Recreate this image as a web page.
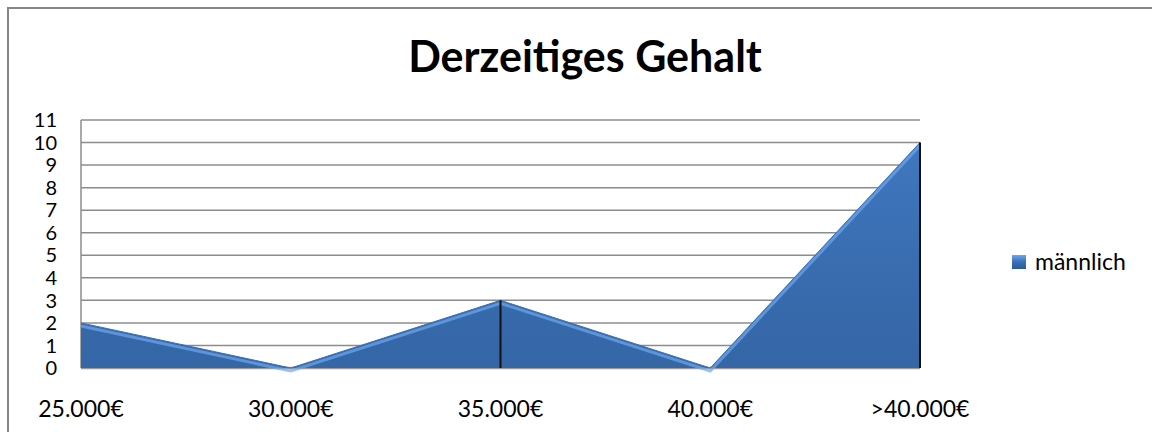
<!DOCTYPE html>
<html>
<head>
<meta charset="utf-8">
<script src="https://cdn.jsdelivr.net/npm/d3@7"></script>
<style>
  html, body { margin: 0; background: #fff; overflow: hidden; }
  svg { display: block; }
  text { font-family: Lato, "Open Sans", sans-serif; }
</style>
</head>
<body>
<div id="chart"></div>
<script>
//data
const categories = ["25.000€", "30.000€", "35.000€", "40.000€", ">40.000€"];
const values = [2, 0, 3, 0, 10];
const yTicks = [0, 1, 2, 3, 4, 5, 6, 7, 8, 9, 10, 11];
const seriesName = "männlich";
const title = "Derzeitiges Gehalt";

//constants
const width = 1152;
const height = 432;
const margin = { top: 120, bottom: 64, left: 81, right: 232 };

const svg = d3
  .select("#chart")
  .append("svg")
  .attr("width", width)
  .attr("height", height);

// outer chart frame: only left and top edges show in the picture
svg
  .append("path")
  .attr("d", `M8,${height} V8 H${width}`)
  .attr("fill", "none")
  .attr("stroke", "#868686")
  .attr("stroke-width", 2);

const x = d3
  .scalePoint()
  .domain(categories)
  .range([margin.left, width - margin.right]);

const y = d3
  .scaleLinear()
  .domain([0, 11])
  .range([height - margin.bottom, margin.top]);

//gradients
const defs = svg.append("defs");
const grad = defs
  .append("linearGradient")
  .attr("id", "areaFill")
  .attr("x1", 0)
  .attr("y1", 0)
  .attr("x2", 0)
  .attr("y2", 1);
grad.append("stop").attr("offset", "0%").attr("stop-color", "#3f77bf");
grad.append("stop").attr("offset", "60%").attr("stop-color", "#386cae");
grad.append("stop").attr("offset", "100%").attr("stop-color", "#3566a6");

const legGrad = defs
  .append("linearGradient")
  .attr("id", "legFill")
  .attr("x1", 0)
  .attr("y1", 0)
  .attr("x2", 0)
  .attr("y2", 1);
legGrad.append("stop").attr("offset", "0%").attr("stop-color", "#6aa6ee");
legGrad.append("stop").attr("offset", "50%").attr("stop-color", "#3a70b4");
legGrad.append("stop").attr("offset", "100%").attr("stop-color", "#2d5b98");

//gridlines
svg
  .append("g")
  .selectAll("line")
  .data(yTicks)
  .join("line")
  .attr("x1", margin.left)
  .attr("x2", width - margin.right)
  .attr("y1", (d) => y(d))
  .attr("y2", (d) => y(d))
  .attr("stroke", (d) => (d === 0 ? "#9a9a9a" : "#8c8c8c"))
  .attr("stroke-width", (d) => (d === 0 ? 2.5 : 1.5));

// left border of plot area
svg
  .append("line")
  .attr("x1", margin.left)
  .attr("x2", margin.left)
  .attr("y1", y(11))
  .attr("y2", y(0))
  .attr("stroke", "#8c8c8c")
  .attr("stroke-width", 1.5);

//area
const area = d3
  .area()
  .x((d, i) => x(categories[i]))
  .y0(y(0))
  .y1((d) => y(d));

svg
  .append("path")
  .datum(values)
  .attr("d", area)
  .attr("fill", "url(#areaFill)");

// light bevel just inside the top edge
const line = d3
  .line()
  .x((d, i) => x(categories[i]))
  .y((d) => y(d));

svg
  .append("path")
  .datum(values)
  .attr("d", line)
  .attr("fill", "none")
  .attr("stroke", "#6ea8f0")
  .attr("stroke-width", 3)
  .attr("transform", "translate(0,3)")
  .attr("opacity", 0.7);

svg
  .append("path")
  .datum(values)
  .attr("d", line)
  .attr("fill", "none")
  .attr("stroke", "#3d72b8")
  .attr("stroke-width", 1);

// dark vertical edges at 35.000€ and >40.000€
svg
  .append("g")
  .selectAll("line")
  .data([categories[2], categories[4]])
  .join("line")
  .attr("x1", (d) => x(d))
  .attr("x2", (d) => x(d))
  .attr("y1", (d) => y(values[categories.indexOf(d)]))
  .attr("y2", y(0))
  .attr("stroke", "#111")
  .attr("stroke-width", 2);

//y axis labels
svg
  .append("g")
  .selectAll("text")
  .data(yTicks)
  .join("text")
  .attr("x", 57)
  .attr("y", (d) => y(d))
  .attr("dy", "0.36em")
  .attr("text-anchor", "end")
  .attr("font-size", 20)
  .attr("fill", "#000")
  .text((d) => d);

//x axis labels
svg
  .append("g")
  .selectAll("text")
  .data(categories)
  .join("text")
  .attr("x", (d) => x(d))
  .attr("y", 409)
  .attr("dy", "0.36em")
  .attr("text-anchor", "middle")
  .attr("font-size", 23)
  .attr("fill", "#000")
  .text((d) => d);

//title
svg
  .append("text")
  .attr("x", 585)
  .attr("y", 72)
  .attr("text-anchor", "middle")
  .attr("font-size", 43)
  .attr("font-weight", "bold")
  .attr("fill", "#000")
  .text(title);

//legend
svg
  .append("rect")
  .attr("x", 1012)
  .attr("y", 255)
  .attr("width", 14)
  .attr("height", 14)
  .attr("fill", "url(#legFill)");

svg
  .append("text")
  .attr("x", 1035)
  .attr("y", 262)
  .attr("dy", "0.36em")
  .attr("font-size", 23)
  .attr("fill", "#000")
  .text(seriesName);
</script>
</body>
</html>
